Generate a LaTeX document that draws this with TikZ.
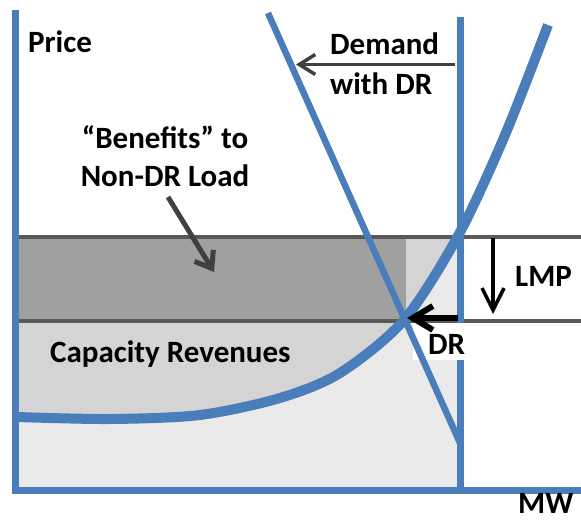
\documentclass[tikz,border=0pt]{standalone}
\usepackage{fontspec}
\setmainfont{Carlito}
\usetikzlibrary{arrows.meta}
\definecolor{axblue}{HTML}{4A7EBB}
\definecolor{lgray}{HTML}{595959}
\definecolor{agray}{HTML}{404040}
\definecolor{fdark}{HTML}{A0A0A0}
\definecolor{fmid}{HTML}{D4D4D4}
\definecolor{flight}{HTML}{EAEAEA}
\begin{document}
\begin{tikzpicture}[x=1pt,y=-1pt,
  lbl/.style={font=\fontsize{31}{39}\selectfont\bfseries, inner sep=0pt, text=black},
  axisline/.style={draw=axblue, line width=6.5pt, line join=miter},
  demandline/.style={draw=axblue, line width=7pt},
  supplyline/.style={draw=axblue, line width=10pt},
  priceline/.style={draw=lgray, line width=4.5pt},
  grayarrow/.style={draw=agray, line width=3.5pt, -{Straight Barb[length=16pt,width=20pt]}},
  blackarrow/.style={draw=black, line width=3.5pt, -{Straight Barb[length=22pt,width=22pt]}}
]
\useasboundingbox (0,0) rectangle (581,521);
% fills
\fill[fmid] (15,237) rectangle (460,490);
\begin{scope}
  \clip (15,237) rectangle (460,490);
  \fill[flight] plot[smooth] coordinates {(17,417) (110,419) (200,415) (280,398) (340,373) (404,320) (459,234) (505,135) (548,25)} -- (548,490) -- (15,490) -- cycle;
\end{scope}
\fill[fdark] (15,237) rectangle (406,321);
% price lines
\coordinate (p1l) at (15,237); \coordinate (p1r) at (581,237);
\coordinate (p2l) at (15,321); \coordinate (p2r) at (581,321);
\draw[priceline] (p1l) -- (p1r);
\draw[priceline] (p2l) -- (p2r);
% original demand (vertical)
\coordinate (dvt) at (460,17); \coordinate (dvb) at (460,490);
\draw[demandline] (dvt) -- (dvb);
% white box behind DR label
\fill[white] (413,323) rectangle (464,360);
% demand with DR
\coordinate (dst) at (268,13); \coordinate (dsb) at (460,443);
\draw[demandline, line width=6.5pt] (dst) -- (dsb);
% supply curve
\draw[supplyline] plot[smooth] coordinates {(17,417) (110,419) (200,415) (280,398) (340,373) (404,320) (459,234) (505,135) (548,25)};
% axes
\coordinate (ytop) at (15.5,10); \coordinate (orig) at (15.5,490.5); \coordinate (xend) at (581,490.5);
\draw[axisline] (ytop) -- (orig) -- (xend);
% labels
\node[lbl, anchor=base west] (price) at (28,53) {Price};
\node[lbl, anchor=base] (ben1) at (165,149) {“Benefits” to};
\node[lbl, anchor=base] (ben2) at (165,187) {Non-DR Load};
\node[lbl, anchor=base west] (dem1) at (330,55) {Demand};
\node[lbl, anchor=base west] (dem2) at (330,95) {with DR};
\node[lbl, anchor=base west] (cap) at (50,362) {Capacity Revenues};
\node[lbl, anchor=base west] (lmp) at (515,287) {LMP};
\node[lbl, anchor=base west] (dr) at (428,355) {DR};
\node[lbl, anchor=base west] (mw) at (518,513) {MW};
% arrows
\coordinate (da1) at (455,64.5); \coordinate (da2) at (296,64.5);
\draw[grayarrow] (da1) -- (da2);
\coordinate (ba1) at (168,197); \coordinate (ba2) at (214,272);
\draw[grayarrow, line width=5pt, -{Straight Barb[length=15pt,width=22pt]}] (ba1) -- (ba2);
\coordinate (la1) at (493,238); \coordinate (la2) at (493,314);
\draw[blackarrow] (la1) -- (la2);
\coordinate (ra1) at (458,318); \coordinate (ra2) at (407,318);
\draw[blackarrow, line width=6pt, -{Straight Barb[length=20pt,width=24pt]}] (ra1) -- (ra2);
\end{tikzpicture}
\end{document}
